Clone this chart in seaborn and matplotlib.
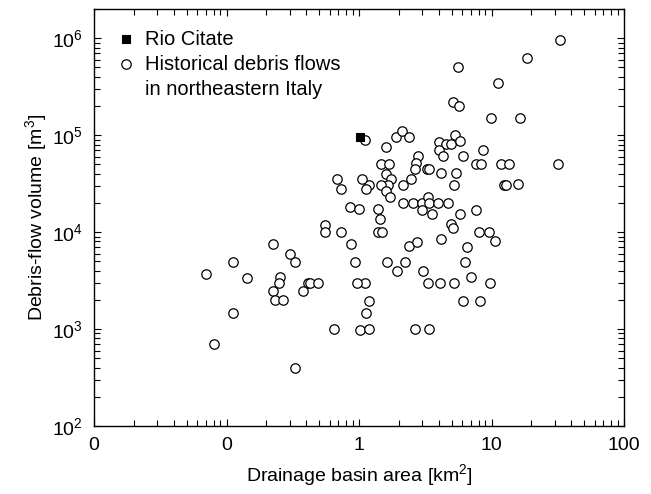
import numpy as np
import pandas as pd
import matplotlib
matplotlib.use("Agg")
import matplotlib.pyplot as plt
import seaborn as sns
from matplotlib.lines import Line2D
from matplotlib.ticker import FixedLocator, FixedFormatter, LogLocator, FuncFormatter, NullFormatter

# historical debris flows, northeastern Italy
area_km2 = [32.9, 18.5, 5.56, 11.1, 5.12, 5.71, 9.9, 16.5, 1.11, 1.89,
            2.12, 2.37, 1.59, 4.04, 4.56, 4.92, 5.31, 5.78, 4.0, 4.33,
            8.67, 6.07, 2.81, 2.69, 2.65, 1.47, 1.68, 1.59, 1.75, 1.66,
            1.47, 1.59, 1.71, 2.15, 2.45, 3.24, 3.37, 4.14, 5.4, 5.21,
            7.6, 8.34, 11.7, 13.6, 31.8, 12.4, 12.9, 15.9, 1.2, 2.15,
            2.57, 2.97, 3.3, 3.37, 3.92, 4.72, 3.0, 3.56, 5.78, 7.68,
            1.40, 1.44, 0.68, 0.73, 1.05, 1.13, 0.855, 1.0, 4.92, 5.12,
            1.40, 1.5, 2.4, 2.75, 4.14, 6.53, 8.0, 9.57, 10.6, 1.62,
            2.22, 1.93, 3.06, 6.28, 7.05, 1.11, 3.3, 4.07, 5.21, 9.69,
            1.2, 6.07, 8.18, 1.13, 1.02, 1.2, 2.65, 3.37, 0.553, 0.553,
            0.73, 0.223, 0.87, 0.301, 0.327, 0.111, 0.94, 0.0705, 0.142, 0.255,
            0.25, 0.223, 0.232, 0.266, 0.376, 0.414, 0.426, 0.493, 0.96, 0.111,
            0.65, 0.0805, 0.327]
volume_m3 = [953000, 618000, 499000, 341000, 220000, 198000, 150000, 150000, 88700, 96000,
             110000, 96000, 74600, 84100, 80200, 80200, 101000, 86700, 70500, 60800,
             70500, 60800, 60800, 51000, 44600, 50600, 50600, 39900, 35200, 30600,
             30600, 26500, 23000, 30600, 35200, 44600, 44600, 40300, 40300, 30600,
             50600, 50600, 50600, 50600, 50600, 30600, 30600, 31000, 30600, 20000,
             20000, 20000, 22800, 20000, 20000, 20000, 17100, 15200, 15200, 17100,
             17500, 13800, 35200, 27700, 35200, 27700, 18000, 17500, 12000, 11100,
             9930, 9930, 7180, 7940, 8530, 6950, 9930, 9930, 8070, 4940,
             4940, 3960, 3960, 4940, 3460, 2980, 2980, 2980, 2980, 2980,
             1960, 1960, 1960, 1470, 980, 1000, 1000, 1000, 11800, 9930,
             9930, 7520, 7520, 5930, 4940, 4940, 4940, 3660, 3380, 3460,
             2960, 2480, 1980, 1980, 2480, 2980, 2980, 2980, 2980, 1470,
             1000, 700, 399]

# Rio Citate event
citate_area = [1.02]
citate_volume = [95000]

x_ticks = [0.01, 0.1, 1, 10, 100]
x_tick_labels = ["0", "0", "1", "10", "100"]

sns.set_style("ticks")
plt.rcParams["font.family"] = ["Liberation Sans", "DejaVu Sans"]
plt.rcParams["mathtext.default"] = "regular"
plt.rcParams["text.color"] = "black"
plt.rcParams["axes.labelcolor"] = "black"
plt.rcParams["xtick.color"] = "black"
plt.rcParams["ytick.color"] = "black"

df_hist = pd.DataFrame({"area": area_km2, "volume": volume_m3})
df_cit = pd.DataFrame({"area": citate_area, "volume": citate_volume})

fig = plt.figure(figsize=(6.51, 4.94), dpi=100)
ax = fig.add_axes([94 / 651, 1 - 426 / 494, 530 / 651, 417 / 494])

sns.scatterplot(data=df_cit, x="area", y="volume", ax=ax, marker="s", s=38,
                color="black", edgecolor="black", linewidth=0.8, label="Rio Citate", zorder=3)
sns.scatterplot(data=df_hist, x="area", y="volume", ax=ax, marker="o", s=46,
                facecolor="white", edgecolor="black", linewidth=0.9,
                label="Historical debris flows", zorder=2)

ax.set_xscale("log")
ax.set_yscale("log")
ax.set_xlim(0.01, 100)
ax.set_ylim(100, 2e6)

ax.xaxis.set_major_locator(FixedLocator(x_ticks))
ax.xaxis.set_major_formatter(FixedFormatter(x_tick_labels))
ax.xaxis.set_minor_locator(LogLocator(base=10, subs=np.arange(2, 10), numticks=20))
ax.xaxis.set_minor_formatter(NullFormatter())
ax.yaxis.set_major_locator(LogLocator(base=10, numticks=10))
ax.yaxis.set_major_formatter(FuncFormatter(lambda v, p: "$10^{%d}$" % round(np.log10(v))))
ax.yaxis.set_minor_locator(LogLocator(base=10, subs=np.arange(2, 10), numticks=20))
ax.yaxis.set_minor_formatter(NullFormatter())

ax.tick_params(which="both", direction="in", top=True, right=True, width=0.8, labelsize=14, pad=8,
               colors="black")
ax.tick_params(which="major", length=5)
ax.tick_params(which="minor", length=4)
for sp in ax.spines.values():
    sp.set_linewidth(1.0)
    sp.set_color("black")

ax.set_xlabel("Drainage basin area [km$^2$]", fontsize=14, labelpad=6)
ax.set_ylabel("Debris-flow volume [m$^3$]", fontsize=14, labelpad=2)

# second line of the historical label gets an empty handle so the circle sits on the first line
handles, labels = ax.get_legend_handles_labels()
handles.append(Line2D([], [], linestyle="none"))
labels.append("in northeastern Italy")
leg = ax.legend(handles, labels, loc="upper left", frameon=False, fontsize=14.5,
                handletextpad=0.55, borderaxespad=0.0, labelspacing=0.3,
                handlelength=0.8, bbox_to_anchor=(0.03, 0.97), labelcolor="black")

fig.savefig("out.png", dpi=100)
